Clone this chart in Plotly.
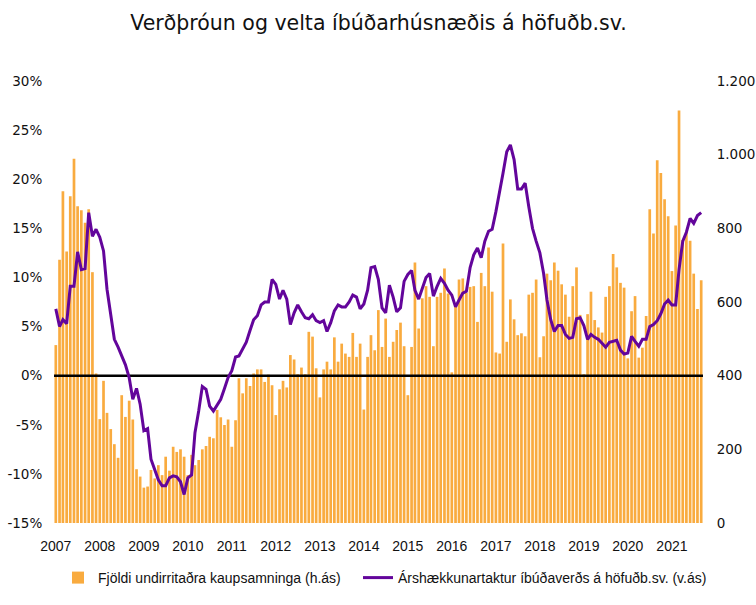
import pandas as pd
import plotly.graph_objects as go

# ---- data ----
months = pd.date_range("2007-01-01", periods=177, freq="MS")

contracts = [
    483, 715, 901, 737, 887, 989, 860, 849, 815, 852, 681, 406,
    282, 386, 299, 255, 214, 177, 347, 288, 332, 281, 146, 126,
    96, 99, 144, 121, 157, 130, 180, 142, 207, 193, 200, 180,
    130, 185, 157, 171, 200, 209, 234, 230, 307, 287, 266, 281,
    207, 279, 393, 352, 393, 372, 406, 417, 417, 383, 403, 374,
    293, 363, 386, 368, 456, 444, 404, 422, 404, 519, 506, 420,
    341, 417, 438, 417, 504, 438, 487, 460, 451, 516, 451, 487,
    308, 451, 510, 469, 578, 478, 555, 451, 492, 524, 544, 480,
    347, 478, 707, 528, 610, 643, 614, 480, 614, 625, 691, 623,
    409, 589, 661, 664, 625, 641, 643, 546, 679, 643, 748, 628,
    463, 460, 759, 492, 607, 553, 510, 515, 507, 620, 625, 661,
    450, 507, 677, 659, 707, 685, 648, 620, 560, 643, 694, 565,
    404, 567, 628, 551, 531, 517, 614, 643, 730, 694, 652, 639,
    447, 575, 616, 449, 476, 562, 852, 786, 985, 950, 879, 833,
    684, 808, 1120, 768, 790, 766, 677, 581, 659,
]

price_yoy = [
    6.8, 5.0, 5.7, 5.3, 9.1, 9.1, 12.6, 10.8, 10.9, 16.6, 14.2, 14.9,
    14.1, 12.7, 8.8, 6.2, 3.7, 2.9, 2.0, 1.1, -0.2, -2.4, -1.3, -2.9,
    -5.6, -5.4, -8.5, -9.6, -10.6, -11.2, -11.2, -10.4, -10.2, -10.3, -10.8, -12.1,
    -10.4, -10.1, -5.8, -3.6, -1.1, -1.4, -3.1, -3.6, -3.0, -2.4, -1.3, -0.2,
    0.5, 1.9, 2.0, 2.7, 3.4, 4.6, 5.7, 6.1, 7.2, 7.5, 7.5, 9.8,
    9.3, 7.8, 8.7, 7.8, 5.2, 6.4, 7.2, 6.5, 5.9, 5.8, 6.2, 5.6,
    5.4, 5.6, 4.5, 5.4, 6.6, 7.2, 7.0, 7.0, 7.5, 8.2, 8.0, 6.8,
    7.3, 8.7, 11.0, 11.1, 9.8, 6.9, 6.4, 9.2, 8.0, 6.5, 6.9, 9.6,
    10.3, 10.7, 8.7, 7.8, 8.9, 10.0, 10.4, 8.1, 9.1, 9.9, 9.4, 8.7,
    8.2, 7.0, 7.7, 8.4, 8.6, 11.0, 12.3, 13.0, 12.0, 13.7, 14.7, 14.9,
    16.7, 18.6, 20.6, 22.8, 23.5, 22.0, 19.0, 19.0, 19.6, 17.2, 15.0, 13.7,
    12.5, 10.4, 7.7, 5.7, 4.5, 5.1, 5.1, 4.2, 3.8, 3.9, 5.8, 5.9,
    5.1, 3.7, 4.2, 3.9, 3.7, 3.3, 2.9, 3.4, 3.5, 3.6, 2.6, 2.2,
    2.3, 4.0, 3.5, 3.0, 3.7, 3.7, 5.0, 5.2, 5.6, 6.3, 7.3, 7.7,
    7.2, 7.2, 10.8, 13.7, 14.6, 16.0, 15.5, 16.3, 16.6,
]

years = list(range(2007, 2022))
year_labels = [str(y) for y in years]
left_ticks = [-15, -10, -5, 0, 5, 10, 15, 20, 25, 30]
left_labels = ["-15%", "-10%", "-5%", "0%", "5%", "10%", "15%", "20%", "25%", "30%"]
right_ticks = [0, 200, 400, 600, 800, 1000, 1200]
right_labels = ["0", "200", "400", "600", "800", "1.000", "1.200"]

name_bar = "Fjöldi undirritaðra kaupsamninga (h.ás)"
name_line = "Árshækkunartaktur íbúðaverðs á höfuðb.sv. (v.ás)"
title = "Verðþróun og velta íbúðarhúsnæðis á höfuðb.sv."

half = pd.Timedelta(days=15)
x_start = months[0] - half
x_end = months[-1] + half

ORANGE = "#F9AB3F"
PURPLE = "#63059B"
AX_FONT = dict(family="DejaVu Sans, sans-serif", size=13.5, color="#111111")
X_FONT = dict(family="Liberation Sans, Arial, sans-serif", size=14, color="#111111")
LEG_FONT = dict(family="Liberation Sans, Arial, sans-serif", size=14, color="#111111")

fig = go.Figure()
fig.add_trace(go.Bar(
    x=months, y=contracts, name=name_bar, yaxis="y", legend="legend",
    marker=dict(color=ORANGE, line=dict(width=0)),
))
fig.add_trace(go.Scatter(
    x=[x_start, x_end], y=[0, 0], yaxis="y2", mode="lines",
    line=dict(color="black", width=2.5), showlegend=False, hoverinfo="skip",
))
fig.add_trace(go.Scatter(
    x=months, y=price_yoy, name=name_line, yaxis="y2", mode="lines", legend="legend2",
    line=dict(color=PURPLE, width=3),
))

leg_common = dict(orientation="h", xanchor="left", xref="container",
                  y=27 / 605, yref="container", yanchor="middle",
                  font=LEG_FONT, bgcolor="rgba(0,0,0,0)")

fig.update_layout(
    width=756, height=605,
    margin=dict(l=54, r=53, t=81, b=82, autoexpand=False),
    paper_bgcolor="white", plot_bgcolor="white",
    bargap=0.2,
    title=dict(text=title, x=0.5, xref="paper", xanchor="center",
               y=1 - 23 / 605, yref="container", yanchor="middle",
               font=dict(family="DejaVu Sans, sans-serif", size=20.5, color="#111111")),
    xaxis=dict(type="date", range=[x_start, x_end],
               tickvals=[f"{y}-01-01" for y in years], ticktext=year_labels,
               showgrid=False, zeroline=False, showline=False,
               ticks="outside", ticklen=10, tickcolor="rgba(0,0,0,0)",
               tickfont=X_FONT),
    yaxis=dict(side="right", range=[0, 1200], tickvals=right_ticks, ticktext=right_labels,
               showgrid=False, zeroline=False, showline=False,
               ticks="outside", ticklen=10, tickcolor="rgba(0,0,0,0)",
               tickfont=AX_FONT),
    yaxis2=dict(side="left", overlaying="y", range=[-15, 30], tickvals=left_ticks,
                ticktext=left_labels, showgrid=False, zeroline=False, showline=False,
                ticks="outside", ticklen=8, tickcolor="rgba(0,0,0,0)",
                tickfont=AX_FONT),
    legend=dict(x=58 / 756, **leg_common),
    legend2=dict(x=358 / 756, **leg_common),
    showlegend=True,
)

fig.write_html("out.html")
